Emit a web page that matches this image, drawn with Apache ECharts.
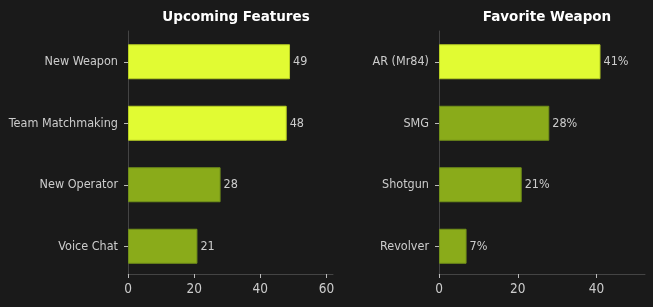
<!DOCTYPE html>
<html lang="en">
<head>
    <meta charset="UTF-8">
    <title>Survey Results</title>
    <style>
        html, body { margin: 0; padding: 0; background: #1a1a1a; }
    </style>
</head>
<body>
<div id="chart" style="width:653px;height:307px;"></div>
<script src="https://cdn.jsdelivr.net/npm/echarts@6/dist/echarts.min.js"></script>
<script type="text/javascript">
    // left panel
    var featureNames = ['New Weapon', 'Team Matchmaking', 'New Operator', 'Voice Chat'];
    var featureVotes = [49, 48, 28, 21];
    var featureTicks = [0, 20, 40, 60];
    // right panel
    var weaponNames = ['AR (Mr84)', 'SMG', 'Shotgun', 'Revolver'];
    var weaponShare = [41, 28, 21, 7];
    var weaponTicks = [0, 20, 40];

    var bright = '#e1fb33';
    var olive = '#8aab1a';
    var fontName = 'DejaVu Sans';
    var fontNarrow = '"DejaVu Sans Condensed", "DejaVu Sans"';

    // top two features highlighted, only the first weapon
    function barData(values, nHighlight) {
        return values.map(function (v, i) {
            var hi = i < nHighlight;
            return {
                value: v,
                itemStyle: { color: hi ? bright : olive, borderColor: hi ? '#b8cf24' : '#71901a', borderWidth: 1 }
            };
        });
    }

    function valueAxis(gridIdx, max, ticks) {
        return {
            type: 'value',
            gridIndex: gridIdx,
            min: 0,
            max: max,
            interval: 20,
            offset: -3,
            splitLine: { show: false },
            axisLine: { show: true, lineStyle: { color: '#444444', width: 1 } },
            axisTick: { show: true, length: 4, lineStyle: { color: '#bbbbbb' } },
            axisLabel: {
                color: '#cccccc', fontFamily: fontNarrow, fontSize: 13.5, margin: 8,
                showMaxLabel: false,
                formatter: function (v) { return ticks.indexOf(v) >= 0 ? v : ''; }
            }
        };
    }

    function catAxis(gridIdx, names) {
        return {
            type: 'category',
            gridIndex: gridIdx,
            data: names,
            inverse: true,
            axisLine: { show: true, lineStyle: { color: '#444444', width: 1 } },
            axisTick: { show: true, alignWithLabel: true, length: 4, lineStyle: { color: '#bbbbbb' } },
            axisLabel: { color: '#cccccc', fontFamily: fontNarrow, fontSize: 12.5, margin: 10 }
        };
    }

    var chart = echarts.init(document.getElementById('chart'));
    var option = {
        backgroundColor: '#1a1a1a',
        animation: false,
        title: [
            {
                text: 'Upcoming Features', left: 231, top: 5, textAlign: 'center',
                textStyle: { color: '#ffffff', fontFamily: fontName, fontSize: 13.5, fontWeight: 'bold' }
            },
            {
                text: 'Favorite Weapon', left: 542, top: 5, textAlign: 'center',
                textStyle: { color: '#ffffff', fontFamily: fontName, fontSize: 13.5, fontWeight: 'bold' }
            }
        ],
        grid: [
            { left: 128, top: 31, width: 205, height: 246 },
            { left: 439, top: 31, width: 206, height: 246 }
        ],
        xAxis: [valueAxis(0, 62, featureTicks), valueAxis(1, 52.3, weaponTicks)],
        yAxis: [catAxis(0, featureNames), catAxis(1, weaponNames)],
        series: [
            {
                type: 'bar', xAxisIndex: 0, yAxisIndex: 0, barWidth: 35,
                data: barData(featureVotes, 2),
                label: { show: true, position: 'right', distance: 3, color: '#cccccc', fontFamily: fontNarrow, fontSize: 12.5 }
            },
            {
                type: 'bar', xAxisIndex: 1, yAxisIndex: 1, barWidth: 35,
                data: barData(weaponShare, 1),
                label: { show: true, position: 'right', distance: 3, color: '#cccccc', fontFamily: fontNarrow, fontSize: 12.5, formatter: '{c}%' }
            }
        ]
    };
    chart.setOption(option, true);
</script>
</body>
</html>
